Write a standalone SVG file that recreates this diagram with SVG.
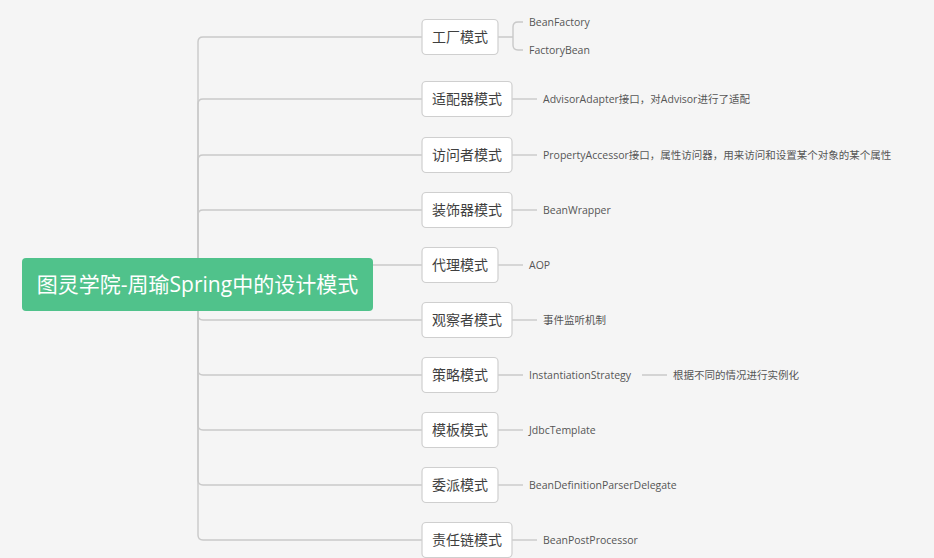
<svg xmlns="http://www.w3.org/2000/svg" width="934" height="558" viewBox="0 0 934 558">
<style>
.ln{fill:none;stroke:#c9c9c9;stroke-width:1.4}
.box{fill:#ffffff;stroke:#cfcfcf;stroke-width:1.2}
.bt{font-family:"Open Sans","Noto Sans CJK SC",sans-serif;font-size:14px;fill:#3f3f3f;text-anchor:middle;dominant-baseline:central}
.lt{font-family:"Open Sans","Noto Sans CJK SC",sans-serif;font-size:10.5px;fill:#555555;dominant-baseline:central}
.rt{font-family:"Open Sans","Noto Sans CJK SC",sans-serif;font-size:21px;fill:#ffffff;text-anchor:middle;dominant-baseline:central}
</style>
<rect width="934" height="558" fill="#f5f5f5"/>
<g id="connectors">
<path class="ln" d="M198,284 V42 Q198,37 203,37 H422"/>
<path class="ln" d="M198,284 V104 Q198,99 203,99 H422"/>
<path class="ln" d="M198,284 V160 Q198,155 203,155 H422"/>
<path class="ln" d="M198,284 V215 Q198,210 203,210 H422"/>
<path class="ln" d="M198,284 V270 Q198,265 203,265 H422"/>
<path class="ln" d="M198,284 V315 Q198,320 203,320 H422"/>
<path class="ln" d="M198,284 V370 Q198,375 203,375 H422"/>
<path class="ln" d="M198,284 V425 Q198,430 203,430 H422"/>
<path class="ln" d="M198,284 V480 Q198,485 203,485 H422"/>
<path class="ln" d="M198,284 V535 Q198,540 203,540 H422"/>
<path class="ln" d="M498,37 H513 M513,37 V27 Q513,22 518,22 H523 M513,37 V45 Q513,50 518,50 H523"/>
<path class="ln" d="M512,99 H537"/>
<path class="ln" d="M512,155 H537"/>
<path class="ln" d="M512,210 H537"/>
<path class="ln" d="M498,265 H523"/>
<path class="ln" d="M512,320 H537"/>
<path class="ln" d="M498,375 H523 M642,375 H667"/>
<path class="ln" d="M498,430 H523"/>
<path class="ln" d="M498,485 H523"/>
<path class="ln" d="M512,540 H537"/>
</g>
<g id="root">
<rect x="22" y="258" width="351" height="53" rx="4" fill="#50c28b"/>
<text class="rt" x="197.5" y="284">图灵学院-周瑜Spring中的设计模式</text>
</g>
<g id="factory">
<rect class="box" x="422" y="19.5" width="76" height="35" rx="4"/>
<text class="bt" x="460" y="36.5">工厂模式</text>
<text class="lt" x="529" y="21.5">BeanFactory</text>
<text class="lt" x="529" y="49.5">FactoryBean</text>
</g>
<g id="adapter">
<rect class="box" x="422" y="81.5" width="90" height="35" rx="4"/>
<text class="bt" x="467" y="98.5">适配器模式</text>
<text class="lt" x="543" y="98.5">AdvisorAdapter接口，对Advisor进行了适配</text>
</g>
<g id="visitor">
<rect class="box" x="422" y="137.5" width="90" height="35" rx="4"/>
<text class="bt" x="467" y="154.5">访问者模式</text>
<text class="lt" x="543" y="154.5">PropertyAccessor接口，属性访问器，用来访问和设置某个对象的某个属性</text>
</g>
<g id="decorator">
<rect class="box" x="422" y="192.5" width="90" height="35" rx="4"/>
<text class="bt" x="467" y="209.5">装饰器模式</text>
<text class="lt" x="543" y="209.5">BeanWrapper</text>
</g>
<g id="proxy">
<rect class="box" x="422" y="247.5" width="76" height="35" rx="4"/>
<text class="bt" x="460" y="264.5">代理模式</text>
<text class="lt" x="529" y="264.5">AOP</text>
</g>
<g id="observer">
<rect class="box" x="422" y="302.5" width="90" height="35" rx="4"/>
<text class="bt" x="467" y="319.5">观察者模式</text>
<text class="lt" x="543" y="319.5">事件监听机制</text>
</g>
<g id="strategy">
<rect class="box" x="422" y="357.5" width="76" height="35" rx="4"/>
<text class="bt" x="460" y="374.5">策略模式</text>
<text class="lt" x="529" y="374.5">InstantiationStrategy</text>
<text class="lt" x="673" y="374.5">根据不同的情况进行实例化</text>
</g>
<g id="template">
<rect class="box" x="422" y="412.5" width="76" height="35" rx="4"/>
<text class="bt" x="460" y="429.5">模板模式</text>
<text class="lt" x="529" y="429.5">JdbcTemplate</text>
</g>
<g id="delegate">
<rect class="box" x="422" y="467.5" width="76" height="35" rx="4"/>
<text class="bt" x="460" y="484.5">委派模式</text>
<text class="lt" x="529" y="484.5">BeanDefinitionParserDelegate</text>
</g>
<g id="chain">
<rect class="box" x="422" y="522.5" width="90" height="35" rx="4"/>
<text class="bt" x="467" y="539.5">责任链模式</text>
<text class="lt" x="543" y="539.5">BeanPostProcessor</text>
</g>
</svg>
